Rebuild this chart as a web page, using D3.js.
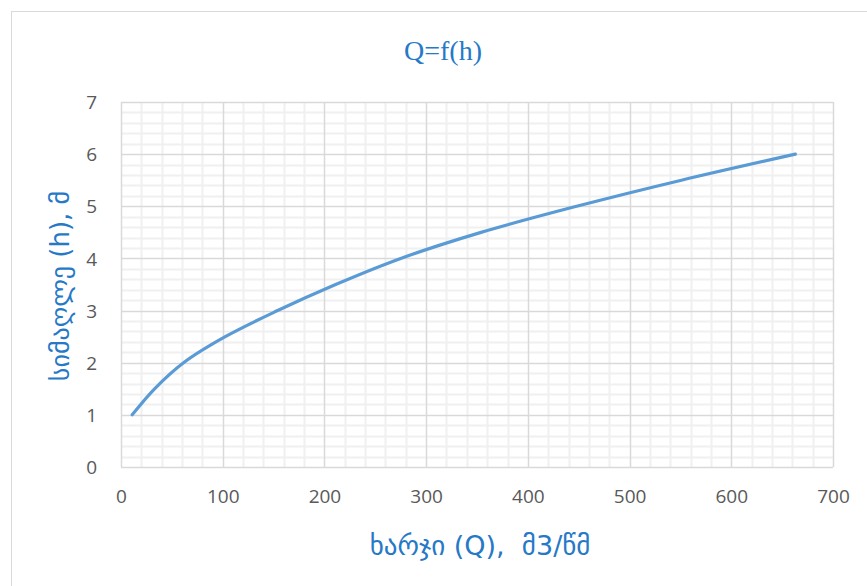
<!DOCTYPE html>
<html>
<head>
<meta charset="utf-8">
<script src="https://cdn.jsdelivr.net/npm/d3@7"></script>
<style>
  html, body { margin: 0; padding: 0; background: #fff; }
  svg { display: block; }
</style>
</head>
<body>
<svg id="chart" width="867" height="586"></svg>
<script>
// ---- data ----
const heights = [1, 1.5, 2, 2.5, 3, 3.5, 4, 4.5, 5, 5.5, 6];              // h, m
const flows   = [11, 33, 61.5, 102.5, 154, 211, 275, 354, 448, 551, 663];  // Q, m3/s
const xTicks  = [0, 100, 200, 300, 400, 500, 600, 700];
const yTicks  = [0, 1, 2, 3, 4, 5, 6, 7];
const titleText = "Q=f(h)";
const xTitle = "ხარჯი (Q),  მ3/წმ";
const yTitle = "სიმაღლე (h), მ";

const svg = d3.select("#chart");
const W = 867, H = 586;
const m = { left: 121, right: 833, top: 102, bottom: 467 };

// outer chart border
svg.append("rect")
  .attr("x", 11.5).attr("y", 11.5)
  .attr("width", W - 11).attr("height", H - 11)
  .attr("fill", "#fff").attr("stroke", "#d9d9d9").attr("stroke-width", 1);

const x = d3.scaleLinear().domain([0, 700]).range([m.left, m.right]);
const y = d3.scaleLinear().domain([0, 7]).range([m.bottom, m.top]);

// minor gridlines
const xMinor = d3.range(0, 701, 20).filter(v => v % 100 !== 0);
const yMinor = d3.range(0, 36).map(i => i * 0.2).filter((v, i) => i % 5 !== 0);
const grid = svg.append("g");
grid.selectAll(".xm").data(xMinor).join("line")
  .attr("x1", d => Math.round(x(d)) + 0.5).attr("x2", d => Math.round(x(d)) + 0.5)
  .attr("y1", m.top).attr("y2", m.bottom)
  .attr("stroke", "#f0f0f0").attr("stroke-width", 2);
grid.selectAll(".ym").data(yMinor).join("line")
  .attr("y1", d => Math.round(y(d)) + 0.5).attr("y2", d => Math.round(y(d)) + 0.5)
  .attr("x1", m.left).attr("x2", m.right)
  .attr("stroke", "#f0f0f0").attr("stroke-width", 2);

// major gridlines
grid.selectAll(".xM").data(xTicks).join("line")
  .attr("x1", d => Math.round(x(d)) + 0.5).attr("x2", d => Math.round(x(d)) + 0.5)
  .attr("y1", m.top).attr("y2", m.bottom)
  .attr("stroke", "#d9d9d9").attr("stroke-width", 1.5);
grid.selectAll(".yM").data(yTicks).join("line")
  .attr("y1", d => Math.round(y(d)) + 0.5).attr("y2", d => Math.round(y(d)) + 0.5)
  .attr("x1", m.left).attr("x2", m.right)
  .attr("stroke", "#d9d9d9").attr("stroke-width", 1.5);

// axes (labels only)
const xAxis = svg.append("g")
  .attr("transform", `translate(0,${m.bottom})`)
  .call(d3.axisBottom(x).tickValues(xTicks).tickSize(0).tickPadding(23).tickFormat(d3.format("d")));
const yAxis = svg.append("g")
  .attr("transform", `translate(${m.left},0)`)
  .call(d3.axisLeft(y).tickValues(yTicks).tickSize(0).tickPadding(24).tickFormat(d3.format("d")));
[xAxis, yAxis].forEach(a => {
  a.select(".domain").remove();
  a.selectAll("text")
    .attr("fill", "#595959")
    .style("font-family", "'Open Sans', 'Liberation Sans', sans-serif")
    .style("font-size", "19px");
});
yAxis.selectAll("text").attr("dy", "0.35em");
xAxis.selectAll("text").attr("dy", "0.71em");

// line
const pts = flows.map((q, i) => ({ q, h: heights[i] }));
svg.append("path")
  .datum(pts)
  .attr("fill", "none")
  .attr("stroke", "#5b9bd5")
  .attr("stroke-width", 3.2)
  .attr("stroke-linecap", "round")
  .attr("d", d3.line().x(d => x(d.q)).y(d => y(d.h)).curve(d3.curveCatmullRom.alpha(0.5)));

// titles
svg.append("text")
  .attr("x", 443).attr("y", 60)
  .attr("text-anchor", "middle")
  .attr("fill", "#2679c6")
  .style("font-family", "'Liberation Serif', 'DejaVu Serif', serif")
  .style("font-size", "28px")
  .text(titleText);

svg.append("text")
  .attr("x", 480).attr("y", 555)
  .attr("text-anchor", "middle")
  .attr("fill", "#2679c6")
  .style("font-family", "'DejaVu Sans', sans-serif")
  .style("font-size", "27px")
  .style("white-space", "pre")
  .text(xTitle);

svg.append("text")
  .attr("transform", "translate(69,286) rotate(-90)")
  .attr("text-anchor", "middle")
  .attr("fill", "#2679c6")
  .style("font-family", "'DejaVu Sans', sans-serif")
  .style("font-size", "26px")
  .text(yTitle);
</script>
</body>
</html>
